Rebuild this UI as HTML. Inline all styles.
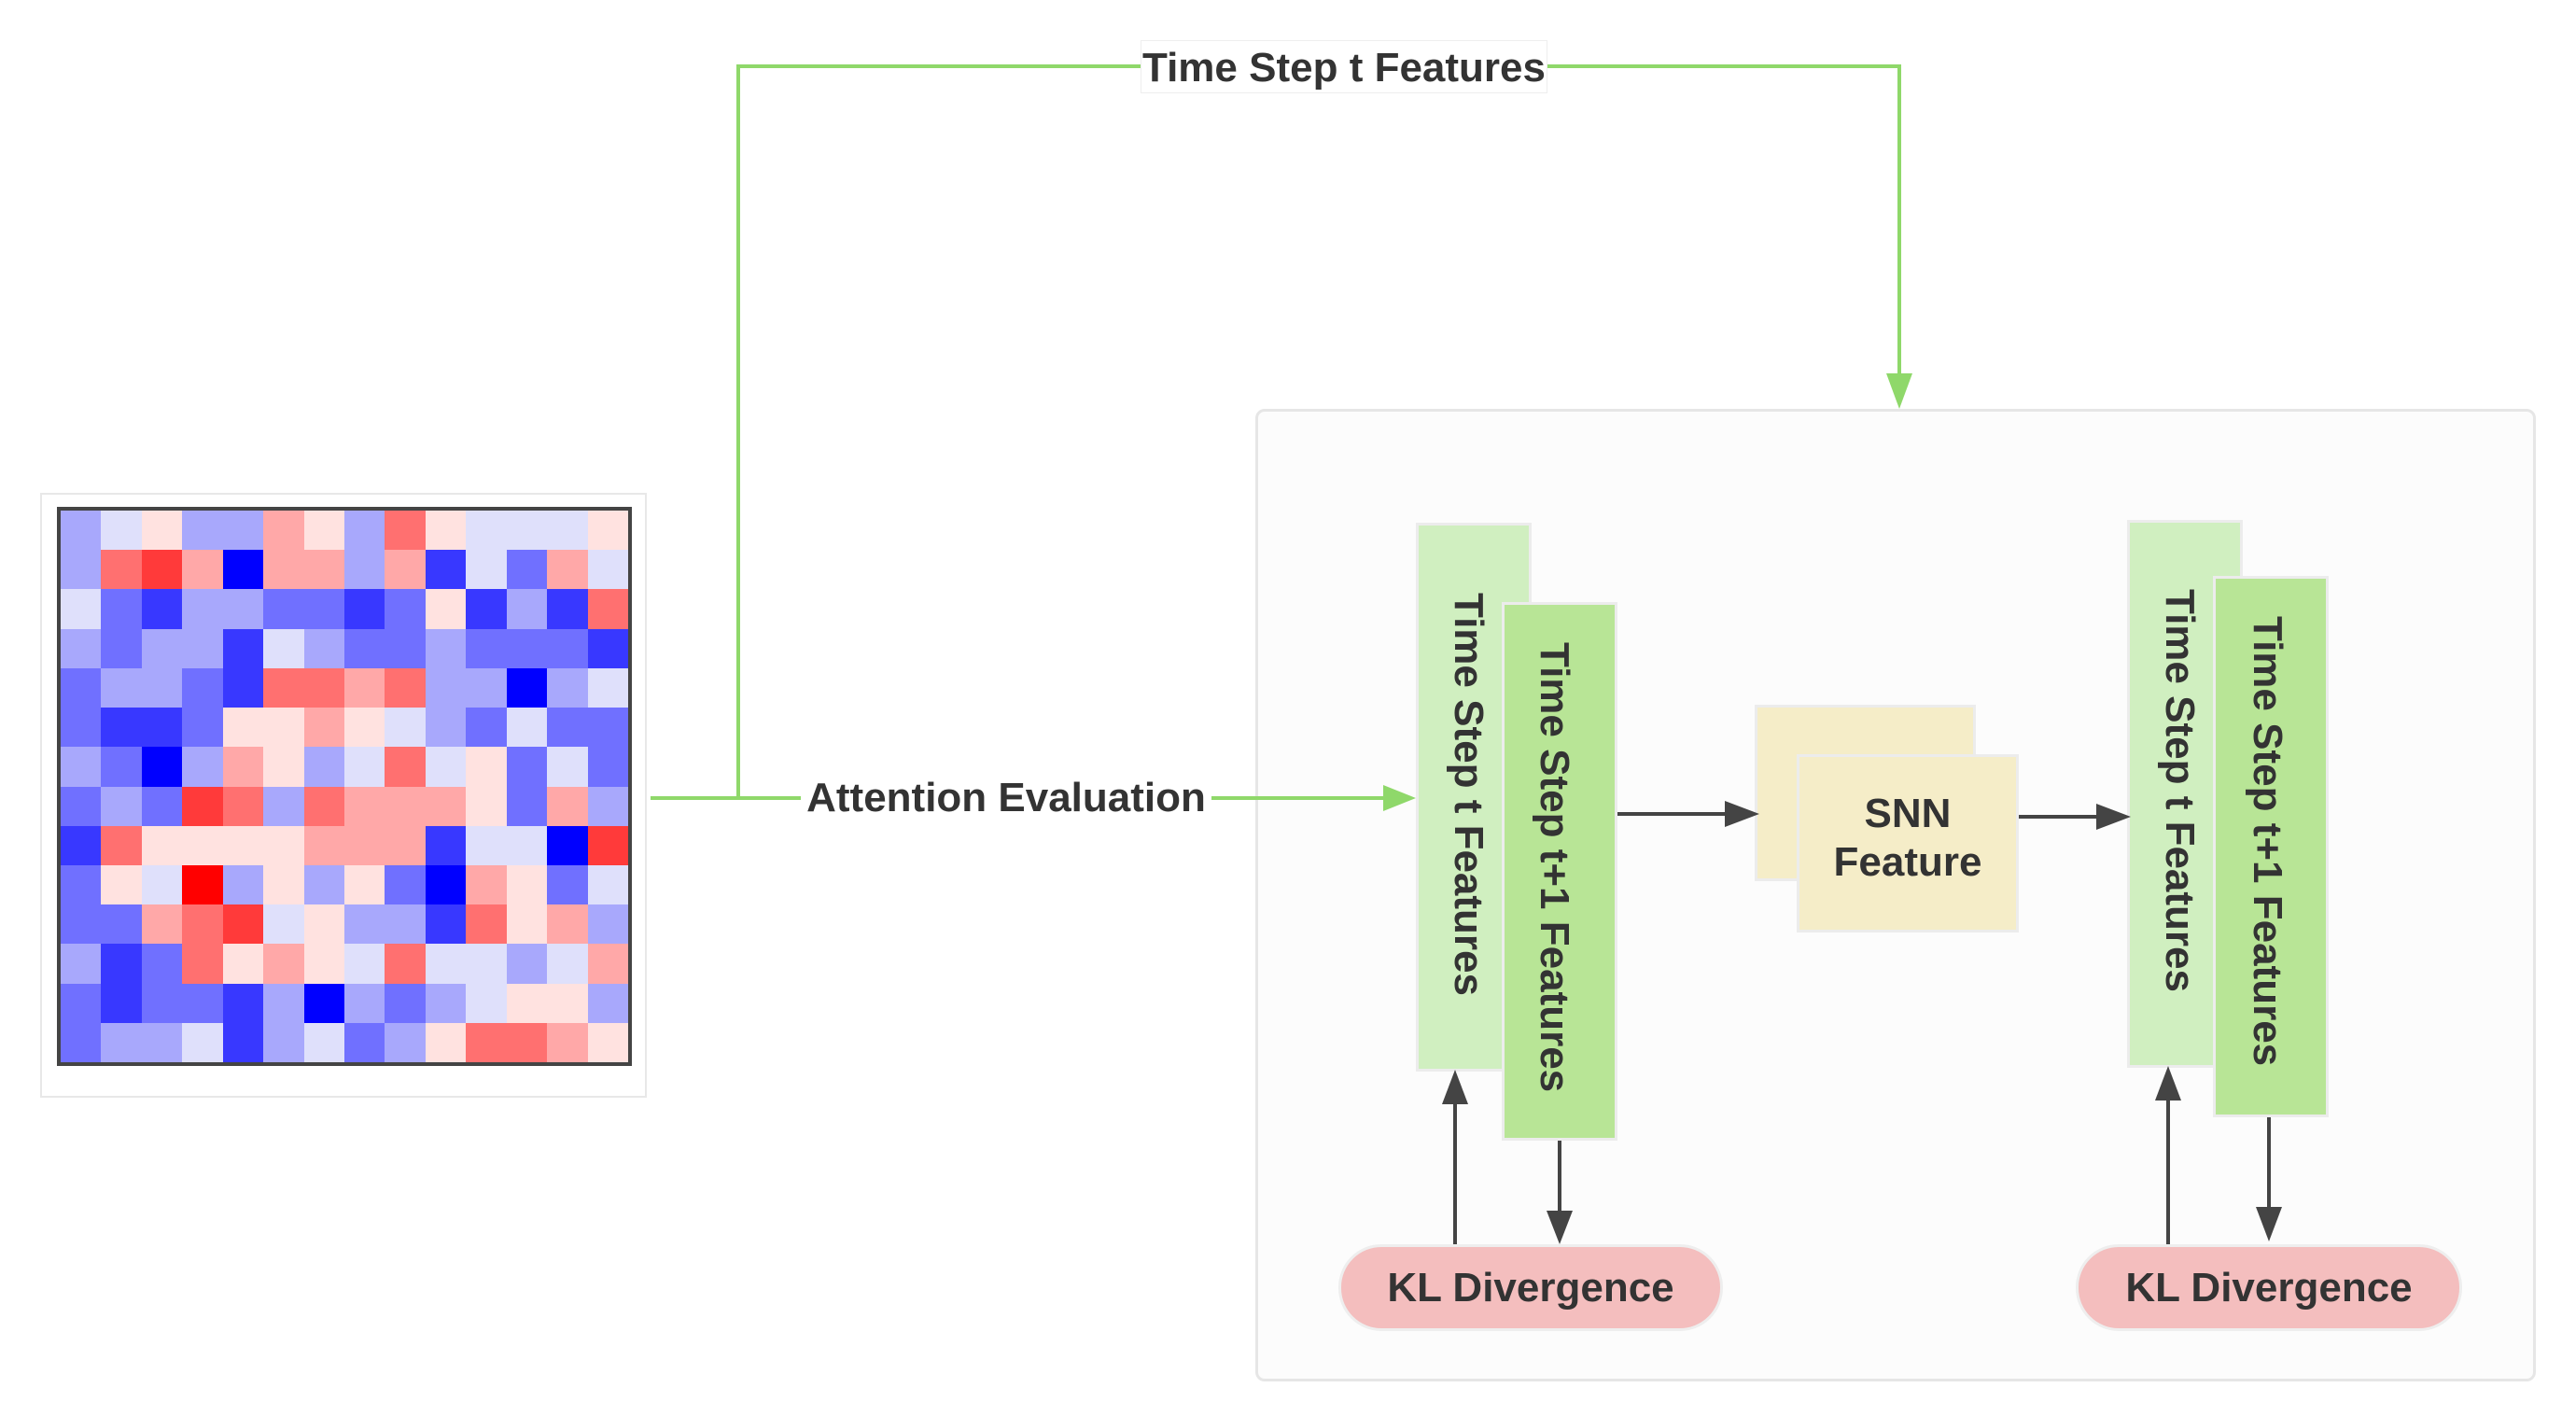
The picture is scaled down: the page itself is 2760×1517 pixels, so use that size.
<!DOCTYPE html>
<html><head><meta charset="utf-8"><style>
body{margin:0;width:2760px;height:1517px;background:#fff;position:relative;overflow:hidden;font-family:"Liberation Sans",sans-serif;}
.a{position:absolute;box-sizing:border-box}
.t{font-weight:bold;color:#333;font-size:44px;white-space:nowrap}
.v{writing-mode:vertical-rl;position:absolute;font-weight:bold;color:#333;font-size:44px;white-space:nowrap;transform:translate(-50%,0)}
.grid{position:absolute;left:65px;top:547px;width:608px;height:591px;display:grid;grid-template-columns:repeat(14,1fr);grid-template-rows:repeat(14,1fr)}
</style></head><body>
<div class="a" style="left:43px;top:528px;width:650px;height:648px;border:2px solid #e8e8e8;background:#fff"></div>
<div class="a" style="left:61px;top:543px;width:616px;height:599px;border:4px solid #444;"></div>
<div class="grid" id="g"></div>
<div class="a" style="left:1345px;top:438px;width:1372px;height:1042px;border:3px solid #e6e6e6;border-radius:10px;background:#fcfcfc"></div>
<div class="a" style="left:1517px;top:560px;width:124px;height:588px;background:#d0efc0;border:3px solid #ececec"></div>
<div class="a" style="left:1609px;top:645px;width:124px;height:577px;background:#b8e596;border:3px solid #ececec"></div>
<div class="a" style="left:2279px;top:557px;width:124px;height:587px;background:#d0efc0;border:3px solid #ececec"></div>
<div class="a" style="left:2371px;top:617px;width:124px;height:580px;background:#b8e596;border:3px solid #ececec"></div>
<div class="a" style="left:1880px;top:755px;width:237px;height:189px;background:#f5edc8;border:3px solid #ececec"></div>
<div class="a" style="left:1925px;top:808px;width:238px;height:191px;background:#f5edc8;border:3px solid #ececec"></div>
<div class="a t" style="left:1925px;top:846px;width:238px;text-align:center;line-height:52px">SNN<br>Feature</div>
<div class="a t" style="left:1434px;top:1333px;width:412px;height:93px;background:#f4bebe;border:3px solid #eee;border-radius:46px;text-align:center;line-height:87px">KL Divergence</div>
<div class="a t" style="left:2224px;top:1333px;width:414px;height:93px;background:#f4bebe;border:3px solid #eee;border-radius:46px;text-align:center;line-height:87px">KL Divergence</div>
<div class="v" style="left:1573px;top:635px">Time Step t Features</div>
<div class="v" style="left:1665px;top:688px">Time Step t+1 Features</div>
<div class="v" style="left:2335px;top:631px">Time Step t Features</div>
<div class="v" style="left:2429px;top:660px">Time Step t+1 Features</div>
<svg class="a" style="left:0;top:0" width="2760" height="1517">
<g fill="none" stroke="#8fd86a" stroke-width="4">
<polyline points="697,855 1492,855"/>
<polyline points="791,855 791,71 2035,71 2035,408"/>
</g>
<polygon points="1517,855 1482,841 1482,869" fill="#8fd86a"/>
<polygon points="2035,438 2021,400 2049,400" fill="#8fd86a"/>
<g stroke="#444" stroke-width="4">
<line x1="1733" y1="872" x2="1852" y2="872"/>
<line x1="2163" y1="875" x2="2250" y2="875"/>
<line x1="1559" y1="1333" x2="1559" y2="1178"/>
<line x1="1671" y1="1222" x2="1671" y2="1303"/>
<line x1="2323" y1="1333" x2="2323" y2="1174"/>
<line x1="2431" y1="1197" x2="2431" y2="1298"/>
</g>
<g fill="#444">
<polygon points="1885,872 1848,858 1848,886"/>
<polygon points="2283,875 2246,861 2246,889"/>
<polygon points="1559,1146 1545,1183 1573,1183"/>
<polygon points="1671,1333 1657,1297 1685,1297"/>
<polygon points="2323,1142 2309,1179 2337,1179"/>
<polygon points="2431,1330 2417,1293 2445,1293"/>
</g>
</svg>
<div class="a t" style="left:1222px;top:43px;width:436px;height:57px;background:#fff;border:1px solid #eee;text-align:center;line-height:57px">Time Step t Features</div>
<div class="a t" style="left:858px;top:826px;width:440px;height:57px;background:#fff;text-align:center;line-height:57px">Attention Evaluation</div>
<script>
var rows=["lwpllqplrpwwwp","lrRqBqqlqbwmqw","wmbllmmbmpblbr","lmllbwlmmlmmmb","mllmbrrqrllBlw","mbbmppqpwlmwmm","lmBlqplwrwpmwm","mlmRrlrqqqpmql","brppppqqqbwwBR","mpwXlplpmBqpmw","mmqrRwpllbrpql","lbmrpqpwrwwlwq","mbmmblBlmlwppl","mllwblwmlprrqp"];
var c={B:"#0000ff",b:"#3838ff",m:"#7070ff",l:"#a8a8fc",w:"#dfe0fb",p:"#ffe2e0",q:"#ffa8a8",r:"#ff7070",R:"#ff3a3a",X:"#ff0000"};
var h="";rows.forEach(function(r){for(var i=0;i<r.length;i++)h+='<div style="background:'+c[r[i]]+'"></div>';});
document.getElementById("g").innerHTML=h;
</script>
</body></html>
